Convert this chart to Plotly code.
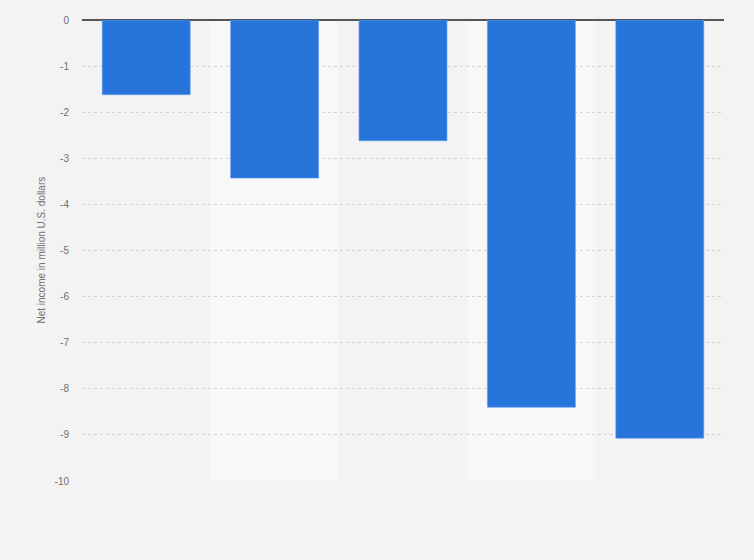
import plotly.graph_objects as go

categories = ["2015", "2016", "2017", "2018", "2019"]
net_income = [-1.62, -3.43, -2.62, -8.40, -9.07]
y_ticks = [0, -1, -2, -3, -4, -5, -6, -7, -8, -9, -10]

fig = go.Figure()
fig.add_trace(go.Bar(
    x=categories, y=net_income,
    marker=dict(color="#2775db", line=dict(color="#5b9bec", width=0.6)),
    width=0.685,
    hoverinfo="y",
))

# alternating light column bands
for i in (1, 3):
    fig.add_shape(type="rect", xref="x", yref="y", x0=i - 0.5, x1=i + 0.5,
                  y0=-10, y1=0, fillcolor="#f8f8f8", line=dict(width=0), layer="below")

fig.update_layout(
    width=754, height=560,
    margin=dict(l=82, r=30, t=20, b=79, autoexpand=False),
    paper_bgcolor="#f3f3f3", plot_bgcolor="#f3f3f3",
    font=dict(family="Liberation Sans, Arial, sans-serif", size=10, color="#707070"),
    showlegend=False,
    bargap=0.315,
    xaxis=dict(showticklabels=False, showgrid=False, zeroline=False, ticks="",
               automargin=False),
    yaxis=dict(range=[-10, 0], tickvals=y_ticks, ticktext=[str(v) for v in y_ticks],
               showgrid=True, gridcolor="#d4d4d4", griddash="dot", gridwidth=1,
               zeroline=True, zerolinecolor="#555555", zerolinewidth=1.5,
               ticks="", ticklabelstandoff=12, automargin=False,
               tickfont=dict(size=10, color="#707070")),
    annotations=[dict(text="Net income in million U.S. dollars", textangle=-90,
                      xref="paper", yref="paper", x=(41 - 82) / 642, y=0.5,
                      showarrow=False, font=dict(size=10, color="#707070"),
                      xanchor="center", yanchor="middle")],
)

fig.write_html(
    "out.html",
    config={"displayModeBar": False},
    post_script="document.body.style.margin='0';document.body.style.background='#f3f3f3';document.body.style.overflow='hidden';",
)
